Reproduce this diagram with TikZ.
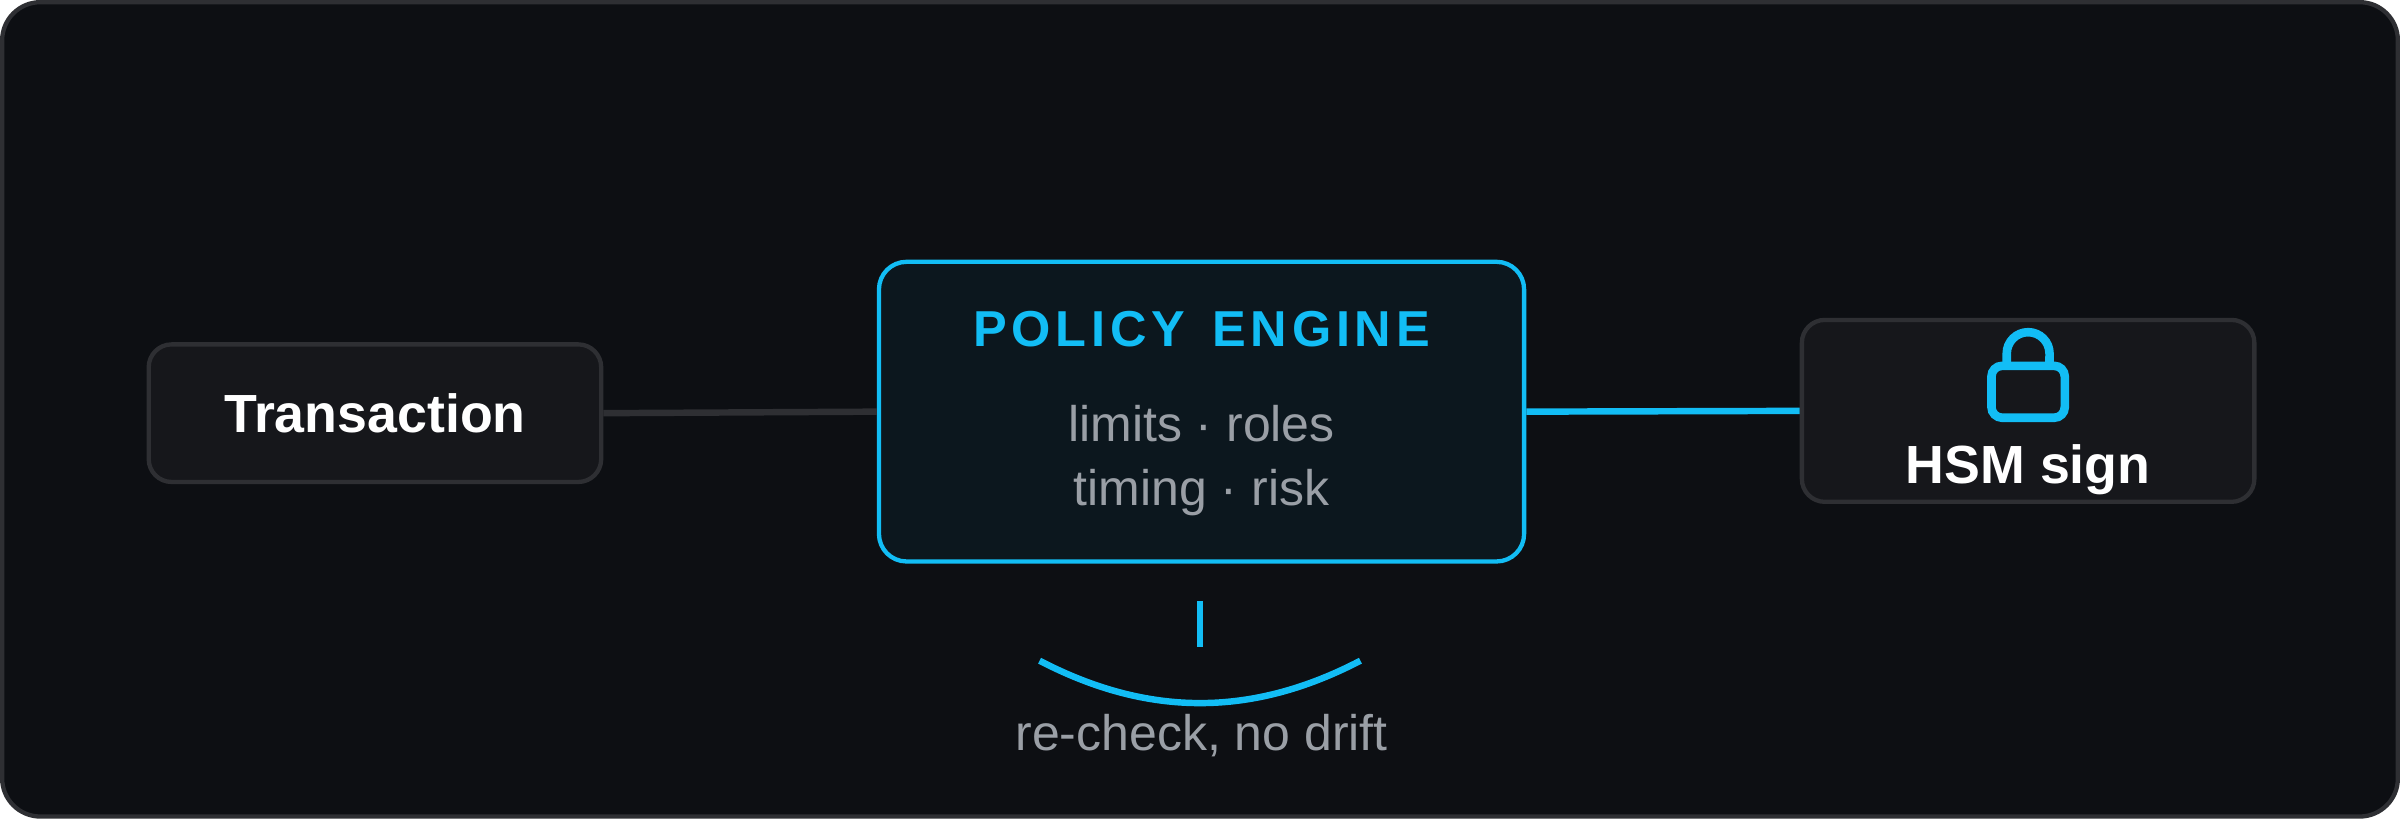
\documentclass[tikz,border=0pt]{standalone}
\usepackage{fontspec}
\setmainfont{Liberation Sans}
\usepackage{tikz}
\definecolor{bgc}{HTML}{0D0F13}
\definecolor{boxc}{HTML}{16171B}
\definecolor{edgec}{HTML}{2E2F33}
\definecolor{cyanc}{HTML}{12BDF5}
\definecolor{polc}{HTML}{0C171E}
\definecolor{greyc}{HTML}{9A9FA6}

\begin{document}
\begin{tikzpicture}[x=0.01cm,y=-0.01cm]
    \tikzstyle{box}=[draw=edgec,fill=boxc,rounded corners=1.5mm,line width=0.8pt,inner sep=0pt]
    \tikzstyle{big}=[text=white,font=\fontsize{10}{12}\selectfont\bfseries]
    \tikzstyle{small}=[text=greyc,font=\fontsize{9.3}{11}\selectfont]
    \tikzstyle{cyanline}=[draw=cyanc,line width=1.2pt]

    % Background
    \path[draw=edgec,fill=bgc,rounded corners=2.5mm,line width=0.8pt] (0,0) rectangle (1568,533);
    \useasboundingbox (0,0) rectangle (1568,533);

    % Boxes
    \node[box,minimum width=29.6mm,minimum height=9mm] (tx) at (244,269) {};
    \node[big] (txl) at (tx) {Transaction};
    \node[box,draw=cyanc,fill=polc,rounded corners=1.8mm,minimum width=42.2mm,minimum height=19.6mm] (pe) at (785,268) {};
    \node[box,minimum width=29.6mm,minimum height=11.9mm] (hsm) at (1326,267.5) {};

    % Texts
    \node[text=cyanc,font=\fontsize{9.4}{11}\selectfont\bfseries] (pet) at (785,214) {P\kern0.9pt O\kern0.9pt L\kern0.9pt I\kern0.9pt C\kern0.9pt Y\kern5pt E\kern0.9pt N\kern0.9pt G\kern0.9pt I\kern0.9pt N\kern0.9pt E};
    \node[small] (pe1) at (785,276) {limits · roles};
    \node[small] (pe2) at (785,321) {timing · risk};
    \node[big] (hsml) at (1326,306) {HSM sign};

    % Connectors
    \draw[edgec,line width=1.2pt] (tx.east) -- (pe.west);
    \draw[cyanline] (pe.east) -- (hsm.west);

    % Lock icon
    \draw[cyanline,line width=1.6pt,rounded corners=0.7mm] (1302,238) rectangle (1350,272);
    \draw[cyanline,line width=1.6pt] (1312,238) -- (1312,230) arc[start angle=180,end angle=0,radius=0.14cm] -- (1340,238);

    % Re-check loop
    \coordinate (tk1) at (784,392);
    \coordinate (tk2) at (784,422);
    \coordinate (al) at (679,431);
    \coordinate (ar) at (889,431);
    \draw[cyanline] (tk1) -- (tk2);
    \draw[cyanline] (al) .. controls (750,468) and (818,468) .. (ar);
    \node[small] (rc) at (785,480) {re-check, no drift};
\end{tikzpicture}
\end{document}
